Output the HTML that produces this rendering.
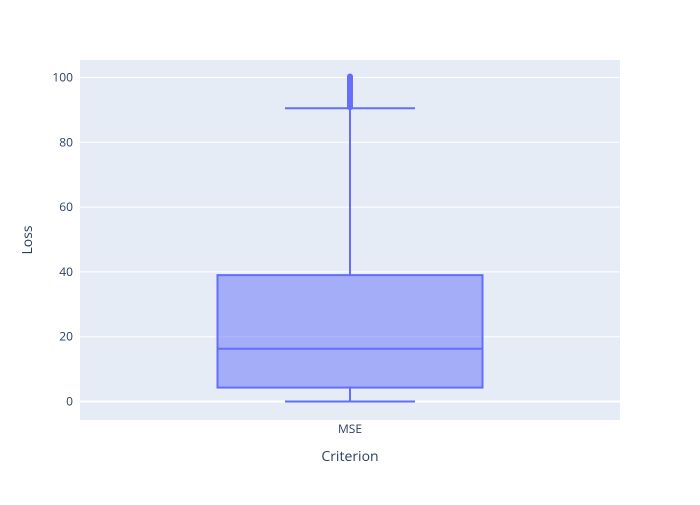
<!DOCTYPE html>
<html><head><style>body{margin:0;background:#fff}svg{font-family:"Open Sans","Liberation Sans",sans-serif}</style></head>
<body>
<svg id="c" width="700" height="500">
<rect x="0" y="0" width="700" height="500" fill="#fff"/>
<rect x="80" y="60" width="540" height="360" fill="#e5ecf6"/>
<g id="grid"></g><g id="marks"></g>
<text x="350" y="461" text-anchor="middle" font-size="14" fill="#2a3f5f">Criterion</text>
<text transform="translate(32,240) rotate(-90)" text-anchor="middle" font-size="14" fill="#2a3f5f">Loss</text>
</svg>
<script>
const categories=["MSE"];
const q1=[4.3], median=[16.3], q3=[39], lowerFence=[0], upperFence=[90.5];
const outliers=[90.8,91.2,91.7,92.1,92.6,93.0,93.5,94.0,94.4,94.9,95.3,95.8,96.3,96.7,97.2,97.6,98.1,98.6,99.0,99.5,99.9,100.3];
const yTicks=[0,20,40,60,80,100];
const ns="http://www.w3.org/2000/svg";
const y=v=>401.5-v*3.24;
const x=i=>80+540*(i+0.5)/categories.length;
function mk(t,a,p){const e=document.createElementNS(ns,t);for(const k in a)e.setAttribute(k,a[k]);p.appendChild(e);return e;}
const g=document.getElementById('grid'),m=document.getElementById('marks'),svg=document.getElementById('c');
yTicks.forEach(v=>{
 const l=mk('line',{x1:80,x2:620,y1:y(v),y2:y(v),stroke:'#fff','stroke-width':v===0?2:1},g);
 
 
 const t=mk('text',{x:73,y:y(v)+4,'text-anchor':'end','font-size':12,fill:'#2a3f5f'},svg);t.textContent=v;
 
 
});
categories.forEach((c,i)=>{
 const cx=x(i),hw=132.5,ww=65,col='#636efa';
 const t=mk('text',{x:cx,y:433,'text-anchor':'middle','font-size':12,fill:'#2a3f5f'},svg);t.textContent=c;
 
 
 const w=mk('path',{d:`M${cx},${y(q3[i])}V${y(upperFence[i])}M${cx-ww},${y(upperFence[i])}H${cx+ww}M${cx},${y(q1[i])}V${y(lowerFence[i])}M${cx-ww},${y(lowerFence[i])}H${cx+ww}`,stroke:col,'stroke-width':2,fill:'none'},m);
 
 
 const b=mk('rect',{x:cx-hw,y:y(q3[i]),width:2*hw,height:y(q1[i])-y(q3[i]),fill:'rgba(99,110,250,0.5)',stroke:col,'stroke-width':2},m);
 
 
 const md=mk('line',{x1:cx-hw,x2:cx+hw,y1:y(median[i]),y2:y(median[i]),stroke:col,'stroke-width':2},m);
 
 
 outliers.forEach(v=>{const p=mk('circle',{cx:cx,cy:y(v),r:3,fill:col},m);
  
  });
});
</script>
</body></html>
